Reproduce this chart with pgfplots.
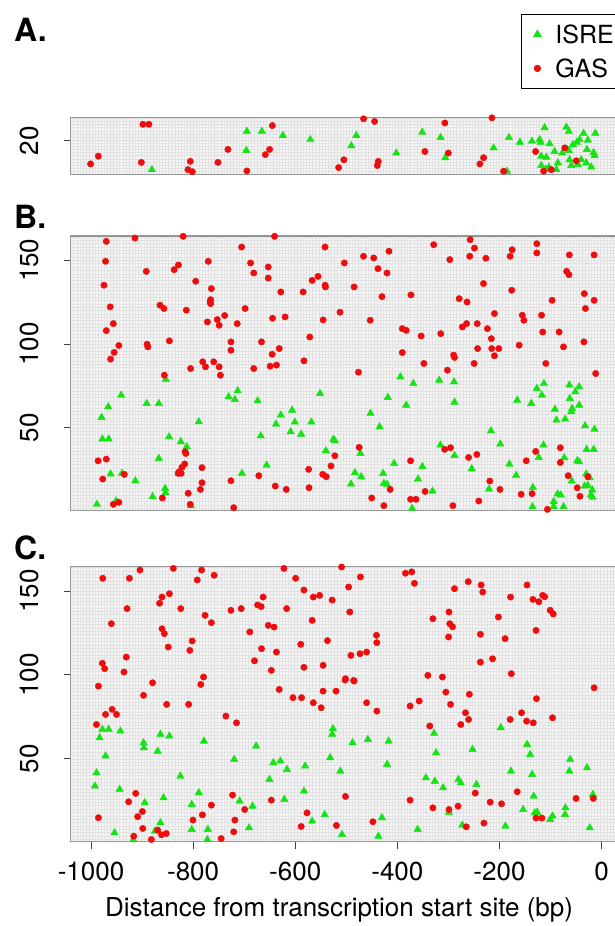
\documentclass[border=0pt]{standalone}
\usepackage{pgfplots}
\pgfplotsset{compat=1.18}
\usepackage{fontspec}
\setmainfont{TeX Gyre Heros}
\definecolor{gasred}{RGB}{238,12,12}
\definecolor{isregreen}{RGB}{20,228,20}
\definecolor{bgc}{RGB}{245,245,245}
\definecolor{gridc}{RGB}{226,226,226}
\definecolor{framec}{RGB}{150,150,150}
\newcommand{\tfont}{\fontsize{26}{30}\selectfont}
\pgfplotsset{
  panel/.style={
    scale only axis, width=551.4pt,
    xmin=-1040, xmax=40,
    axis background/.style={fill=bgc},
    axis line style={draw=framec, line width=1.3pt},
    tick style={draw=black!75, line width=0.9pt},
    tick align=outside, major tick length=7pt, minor tick length=0pt,
    minor xtick={-1040,-1034,...,40},
    xminorgrids, yminorgrids,
    minor grid style={draw=gridc, line width=0.35pt},
    every tick label/.append style={font=\tfont},
    /pgf/number format/assume math mode=true,
    yticklabel style={rotate=90, anchor=south, inner sep=0pt},
    xticklabel style={anchor=north, inner sep=0pt},
    yticklabel shift=25pt, xticklabel shift=13pt,
    xtick pos=bottom, ytick pos=left,
    clip=true,
  },
  isre/.style={only marks, mark=triangle*, mark size=4.3pt, color=isregreen, mark options={draw=isregreen, fill=isregreen}},
  gas/.style={only marks, mark=*, mark size=3.2pt, color=gasred, mark options={draw=gasred, fill=gasred}},
}
\begin{document}
\begin{tikzpicture}
\useasboundingbox (0,0) rectangle (615pt,-926pt);
% ---------------- Panel A ----------------
\begin{axis}[panel, at={(70.6pt,-117.3pt)}, anchor=north west, height=57pt,
  ymin=13.5, ymax=24.5, ytick={20}, yticklabels={20},
  xtick={-1000,-800,-600,-400,-200,0}, xmajorticks=false,
  minor ytick={13.5,14.1,...,24.5},
  legend style={at={(axis description cs:0.8168,2.812)}, anchor=north west,
    draw=black, line width=0.8pt, font=\fontsize{25}{30}\selectfont,
    inner xsep=2pt, inner ysep=3pt, row sep=0pt, cells={anchor=west}},
  legend image code/.code={\path[draw=none,fill=none] (0pt,-17pt) rectangle (30pt,17pt); \draw[#1] plot coordinates {(14pt,0pt)};},
  ]
\addplot[isre] coordinates {
(-880.7,14.4)(-694.7,21.8)(-665.3,21.8)(-624.2,21.0)(-570.5,20.2)(-695.8,18.1)
(-480.4,21.0)(-490.2,19.0)(-402.1,17.6)(-351.2,21.6)(-315.3,20.6)(-306.1,16.7)
(-211.5,18.6)(-181.5,20.6)(-185.5,14.1)(-160.0,19.7)(-136.5,19.9)(-121.4,20.2)
(-119.5,19.7)(-111.6,22.5)(-101.8,19.4)(-92.1,17.9)(-118.1,17.0)(-108.3,16.8)
(-85.6,15.7)(-118.1,15.2)(-103.2,14.9)(-69.1,22.6)(-64.0,21.8)(-77.0,17.6)
(-64.0,18.1)(-56.2,19.2)(-48.4,19.7)(-43.1,20.2)(-35.3,21.4)(-26.8,20.1)
(-12.3,21.4)(-28.8,18.3)(-15.7,17.7)(-13.7,17.1)(-62.7,16.3)(-39.8,16.3)
(-59.3,15.2)(-46.4,15.4)(-30.0,15.7)(-20.2,14.9)(-88.7,14.4)(-109.7,14.5)
};
\addlegendentry{ISRE}
\addplot[gas] coordinates {
(-1000.8,15.5)(-985.7,17.0)(-898.3,23.15)(-886.6,23.15)(-901.5,15.8)(-805.5,16.0)
(-810.2,14.4)(-801.6,14.0)(-751.4,15.8)(-731.8,18.3)(-694.7,14.15)(-644.9,22.9)
(-650.2,18.3)(-658.6,17.3)(-504.7,16.3)(-515.0,14.8)(-466.1,24.2)(-444.6,23.7)
(-437.3,16.0)(-439.3,15.2)(-306.9,23.4)(-346.0,17.9)(-300.2,17.6)(-214.8,24.4)
(-231.1,16.7)(-238.3,15.5)(-191.9,14.1)(-129.3,17.9)(-113.6,14.1)(-98.5,14.4)
(-71.9,18.6)(-49.6,16.1)
};
\addlegendentry{GAS}
\end{axis}
% ---------------- Panel B ----------------
\begin{axis}[panel, at={(70.6pt,-236pt)}, anchor=north west, height=274.7pt,
  ymin=0.5, ymax=164.5, ytick={50,100,150}, yticklabels={50,100,150},
  xtick={-1000,-800,-600,-400,-200,0}, xmajorticks=false,
  minor ytick={0,2,...,164},
  ]
\addplot[isre] coordinates {
(-988.5,4.3)(-979.3,56.2)(-977.8,43.3)(-965.5,43.3)(-966.3,62.5)(-961.7,22.4)
(-950.9,6.3)(-941.0,69.5)(-939.4,22.8)(-913.3,18.4)(-891.0,64.5)(-879.5,8.9)
(-867.2,64.5)(-867.2,31.7)(-854.9,13.8)(-854.1,11.2)(-853.4,78.8)(-847.2,44.6)
(-824.2,41.7)(-812.7,38.7)(-804.2,3.5)(-788.9,53.6)(-730.5,68.5)(-718.2,66.9)
(-712.8,72.1)(-704.4,22.8)(-673.7,66.1)(-667.5,45.2)(-656.0,27.7)(-637.6,52.2)
(-628.3,57.6)(-606.1,60.5)(-600.7,53.4)(-609.1,47.6)(-588.4,46.2)(-568.4,53.4)
(-551.5,70.5)(-540.0,36.3)(-525.4,43.1)(-522.4,42.3)(-490.9,16.4)(-483.2,23.2)
(-470.9,20.8)(-472.4,34.7)(-452.5,58.6)(-434.8,50.6)(-427.9,22.8)(-418.7,68.1)
(-426.4,16.8)(-420.2,16.2)(-406.4,28.7)(-382.6,63.5)(-394.1,80.4)(-368.8,76.4)
(-371.1,1.9)(-359.5,19.4)(-351.1,26.8)(-331.1,12.2)(-318.1,78.4)(-315.8,39.7)
(-288.9,77.4)(-288.1,65.3)(-288.1,33.5)(-254.3,25.6)(-220.5,13.4)(-216.7,48.2)
(-198.3,40.3)(-180.6,28.3)(-167.5,21.6)(-165.2,66.5)(-137.6,64.5)(-134.5,14.4)
(-135.3,2.9)(-126.8,73.5)(-123.0,32.3)(-116.9,69.5)(-113.8,39.7)(-113.0,76.4)
(-91.5,61.1)(-88.4,54.6)(-93.8,5.9)(-93.8,2.9)(-86.1,10.5)(-80.0,9.9)
(-74.6,2.9)(-71.5,55.2)(-73.1,32.1)(-63.1,75.5)(-62.3,67.5)(-59.3,59.6)
(-57.7,61.5)(-51.6,71.5)(-47.7,30.3)(-43.9,29.7)(-43.9,74.5)(-43.9,63.5)
(-58.5,18.2)(-32.4,51.2)(-30.1,22.4)(-29.3,37.1)(-23.2,20.2)(-20.9,9.9)
(-17.8,8.5)(-14.0,49.2)(-15.5,37.1)(-27.0,15.6)(-33.3,15.2)(-18.2,12.9)
};
\addplot[gas] coordinates {
(-970.1,161.3)(-971.6,149.4)(-974.7,135.1)(-962.4,122.2)(-956.3,112.2)(-970.1,108.0)
(-914.0,163.3)(-891.8,143.4)(-837.2,144.4)(-828.8,147.2)(-864.9,123.2)(-857.2,121.2)
(-819.6,164.3)(-813.4,120.2)(-795.0,137.5)(-770.4,149.4)(-764.3,133.1)(-765.8,126.5)
(-766.6,125.1)(-765.8,124.1)(-772.0,113.2)(-752.8,114.6)(-749.0,111.2)(-738.2,117.0)
(-713.6,112.2)(-705.1,157.9)(-698.2,121.2)(-687.5,148.4)(-681.3,142.4)(-652.9,146.0)
(-652.9,139.4)(-644.5,115.4)(-640.6,164.3)(-628.3,131.1)(-619.9,116.2)(-584.6,131.1)
(-571.5,104.2)(-566.9,138.0)(-555.4,140.4)(-545.4,114.4)(-541.6,157.9)(-541.6,135.1)
(-540.8,134.1)(-512.4,119.0)(-503.9,148.4)(-484.7,134.1)(-466.3,152.4)(-453.2,114.2)
(-446.3,151.4)(-437.9,145.0)(-430.2,128.3)(-420.2,142.4)(-416.4,155.4)(-390.3,109.2)
(-382.6,108.2)(-373.4,129.3)(-353.4,104.8)(-328.8,159.3)(-315.0,106.2)(-297.3,150.4)
(-278.9,127.1)(-272.8,110.2)(-264.3,112.2)(-263.5,125.1)(-257.4,162.3)(-258.2,152.4)
(-249.0,157.3)(-243.6,112.2)(-226.7,151.2)(-231.3,136.1)(-223.6,109.2)(-215.9,103.2)
(-209.8,118.2)(-179.1,152.4)(-176.0,132.1)(-175.2,156.3)(-155.3,117.2)(-152.2,114.2)
(-126.8,154.4)(-126.8,159.9)(-117.6,117.2)(-115.3,107.2)(-96.9,126.1)(-83.1,107.2)
(-68.5,143.4)(-63.9,141.4)(-63.1,153.2)(-33.9,130.1)(-31.6,121.2)(-14.7,153.2)
(-14.7,126.1)
(-961.7,91.0)(-954.7,95.0)(-945.5,99.1)(-890.2,99.9)(-888.7,98.3)(-846.5,101.9)
(-856.4,81.4)(-805.0,85.4)(-781.2,89.4)(-775.8,86.4)(-759.7,89.4)(-749.0,86.4)
(-746.6,81.4)(-725.9,101.3)(-725.9,96.3)(-681.3,85.4)(-666.0,101.3)(-645.2,93.9)
(-649.1,86.8)(-636.8,87.4)(-631.4,97.3)(-583.0,90.0)(-476.3,83.2)(-390.3,94.9)
(-348.0,88.4)(-301.9,84.4)(-289.7,93.4)(-288.1,92.0)(-249.7,88.4)(-242.8,97.3)
(-215.2,97.3)(-201.3,97.3)(-209.8,93.0)(-161.4,99.3)(-109.2,88.4)(-74.6,98.3)
(-34.7,101.3)(-11.6,82.4)(-986.2,30.3)(-970.1,31.3)(-977.0,19.4)(-934.8,22.2)
(-956.3,4.3)(-945.5,5.5)(-860.3,8.1)(-815.7,35.7)(-814.2,34.7)(-816.5,28.4)
(-821.9,26.4)(-827.3,23.8)(-823.4,22.8)(-829.6,22.8)(-809.6,10.9)(-805.8,4.3)
(-782.7,26.2)(-782.7,17.2)(-785.8,13.2)(-725.9,18.4)(-720.5,2.3)(-671.4,21.4)
(-639.1,15.2)(-617.6,13.2)(-573.8,25.2)(-573.0,14.2)(-546.2,22.2)(-539.3,20.8)
(-530.0,27.2)(-522.4,33.3)(-474.7,38.3)(-450.2,8.1)(-426.4,3.5)(-414.1,13.2)
(-374.1,30.3)(-374.1,7.3)(-363.4,7.3)(-345.7,12.0)(-307.3,37.1)(-295.8,38.1)
(-291.2,3.5)(-260.5,32.3)(-244.3,34.1)(-240.5,6.3)(-219.0,18.2)(-199.0,13.2)
(-157.6,10.3)(-147.6,30.3)(-136.1,10.7)(-129.1,35.9)(-106.1,1.3)(-80.8,38.1)
(-80.8,29.3)(-65.4,21.4)(-47.7,14.2)(-42.4,9.1)(-27.0,20.8)
};
\end{axis}
% ---------------- Panel C ----------------
\begin{axis}[panel, at={(70.6pt,-566.7pt)}, anchor=north west, height=275pt,
  ymin=0.5, ymax=164.5, ytick={50,100,150}, yticklabels={50,100,150},
  xtick={-1000,-800,-600,-400,-200,0}, xticklabels={-1000,-800,-600,-400,-200,0},
  minor ytick={0,2,...,164},
  xlabel={Distance from transcription start site (bp)},
  xlabel style={font=\tfont, anchor=center, at={(axis description cs:0.487,-0.247)}},
  ]
\addplot[isre] coordinates {
(-977.8,67.5)(-965.5,67.5)(-983.2,62.5)(-942.5,66.5)(-971.6,51.6)(-989.3,41.6)
(-992.4,33.7)(-944.0,31.7)(-897.1,59.5)(-896.4,56.5)(-869.5,54.5)(-864.1,64.5)
(-846.5,63.5)(-825.0,39.6)(-894.8,23.7)(-858.0,26.7)(-874.9,6.8)(-864.1,11.8)
(-954.0,5.8)(-917.1,1.8)(-802.7,22.7)(-802.7,7.8)(-788.9,29.7)(-778.9,60.5)
(-771.2,7.8)(-772.0,1.8)(-719.7,49.6)(-709.0,24.7)(-683.6,21.7)(-690.6,8.8)
(-676.7,57.5)(-650.6,37.6)(-642.9,47.6)(-629.1,48.6)(-616.1,43.6)(-621.4,25.7)
(-583.0,30.7)(-580.7,45.6)(-566.9,12.8)(-542.3,16.7)(-531.6,50.6)(-526.2,67.9)
(-527.7,64.5)(-511.6,42.6)(-508.5,4.8)(-487.8,59.5)(-457.8,61.5)(-430.2,14.8)
(-437.1,3.8)(-420.2,46.6)(-417.1,60.5)(-360.3,7.8)(-344.2,38.6)(-326.5,36.6)
(-310.4,32.7)(-328.1,65.1)(-324.2,53.5)(-299.1,18.1)(-280.4,37.6)(-275.8,35.6)
(-272.8,10.4)(-252.8,55.5)(-245.1,34.6)(-197.5,68.5)(-188.3,9.8)(-177.5,42.6)
(-153.7,19.7)(-146.0,58.5)(-139.9,52.5)(-136.0,40.6)(-133.0,27.7)(-130.7,17.7)
(-126.1,18.1)(-100.7,13.8)(-96.1,15.8)(-70.8,20.7)(-71.5,16.7)(-61.6,49.6)
(-63.1,42.6)(-28.5,44.6)(-23.2,8.8)(-17.0,28.7)
};
\addplot[gas] coordinates {
(-977.0,157.6)(-924.8,157.6)(-904.1,162.5)(-838.8,163.5)(-783.5,162.5)(-758.9,159.4)
(-791.9,156.6)(-622.2,163.5)(-599.2,157.6)(-509.3,164.3)(-472.4,158.4)(-384.1,160.6)
(-371.8,161.4)(-366.5,154.6)(-261.2,155.6)(-235.9,153.6)(-232.8,149.4)(-288.1,151.4)
(-146.0,153.6)(-178.3,146.4)(-134.5,145.0)(-115.3,147.4)(-111.5,146.6)(-123.0,143.6)
(-100.7,138.5)(-94.6,136.3)(-977.8,106.9)(-973.2,103.7)(-960.1,130.5)(-929.4,139.5)
(-935.5,101.7)(-930.9,110.6)(-865.7,142.7)(-861.0,146.4)(-846.5,148.4)(-861.0,127.5)
(-856.4,124.6)(-848.8,116.6)(-824.2,139.5)(-806.5,114.6)(-801.9,120.2)(-779.6,98.7)
(-776.6,135.5)(-764.3,131.1)(-725.9,138.5)(-705.9,139.5)(-689.0,125.6)(-679.8,108.4)
(-673.7,141.7)(-666.8,140.7)(-662.9,146.4)(-666.0,115.6)(-646.8,102.7)(-652.9,129.5)
(-641.4,128.5)(-636.8,113.6)(-616.8,139.5)(-589.2,118.2)(-583.0,150.6)(-583.0,104.5)
(-566.9,132.5)(-564.6,146.4)(-552.3,147.4)(-545.4,105.7)(-536.9,120.4)(-527.7,144.6)
(-495.5,152.4)(-493.2,137.5)(-490.9,111.6)(-501.6,97.7)(-485.5,96.7)(-473.2,112.6)
(-460.2,113.6)(-441.0,123.6)(-440.2,119.2)(-340.3,99.7)(-330.4,133.5)(-311.9,98.7)
(-298.9,137.5)(-297.3,130.5)(-292.0,128.7)(-299.6,122.6)(-237.4,124.2)(-237.4,107.6)
(-213.6,109.6)(-202.1,134.5)(-189.0,121.6)(-176.8,100.7)(-128.4,126.5)
(-985.5,93.3)(-879.5,95.3)(-897.1,87.8)(-785.0,94.3)(-851.8,82.4)(-808.8,82.4)
(-989.3,70.4)(-971.6,76.4)(-958.6,79.4)(-950.1,76.4)(-735.9,75.4)(-715.1,71.4)
(-631.4,91.3)(-604.5,86.4)(-587.6,86.4)(-564.6,83.4)(-549.2,80.4)(-545.4,90.3)
(-520.1,90.3)(-502.4,96.9)(-484.7,96.3)(-460.2,83.4)(-440.2,78.4)(-375.1,81.4)
(-357.2,84.4)(-305.0,89.7)(-295.8,82.4)(-259.0,88.4)(-336.5,69.5)(-275.8,70.4)
(-266.6,77.4)(-260.5,73.4)(-179.1,73.4)(-156.8,77.4)(-146.8,72.4)(-133.8,71.4)
(-127.6,85.8)(-96.1,74.4)(-14.7,92.3)
(-926.3,24.3)(-912.5,29.3)(-985.5,14.8)(-908.7,15.4)(-899.4,18.5)(-898.7,8.4)
(-916.3,3.8)(-881.8,1.8)(-869.5,7.4)(-861.8,4.6)(-852.6,5.4)(-722.8,28.3)
(-718.2,13.4)(-720.5,6.4)(-699.0,19.7)(-764.3,22.3)(-781.9,16.5)(-800.4,13.4)
(-745.1,2.4)(-646.8,25.3)(-588.4,9.6)(-576.9,17.7)(-519.3,10.2)(-501.6,27.5)
(-447.9,12.4)(-375.1,25.3)(-330.4,20.7)(-298.9,19.7)(-281.2,21.7)(-265.1,9.4)
(-247.4,29.5)(-230.5,11.6)(-218.2,24.1)(-196.0,23.1)(-165.2,30.3)(-128.4,14.6)
(-116.9,14.6)(-50.0,26.3)(-16.2,26.3)
};
\end{axis}
% panel letters
\node[anchor=west, inner sep=0pt, font=\fontsize{32}{36}\selectfont\bfseries] at (14pt,-30pt) {A.};
\node[anchor=west, inner sep=0pt, font=\fontsize{32}{36}\selectfont\bfseries] at (14pt,-217pt) {B.};
\node[anchor=west, inner sep=0pt, font=\fontsize{32}{36}\selectfont\bfseries] at (14pt,-548pt) {C.};
\end{tikzpicture}
\end{document}
